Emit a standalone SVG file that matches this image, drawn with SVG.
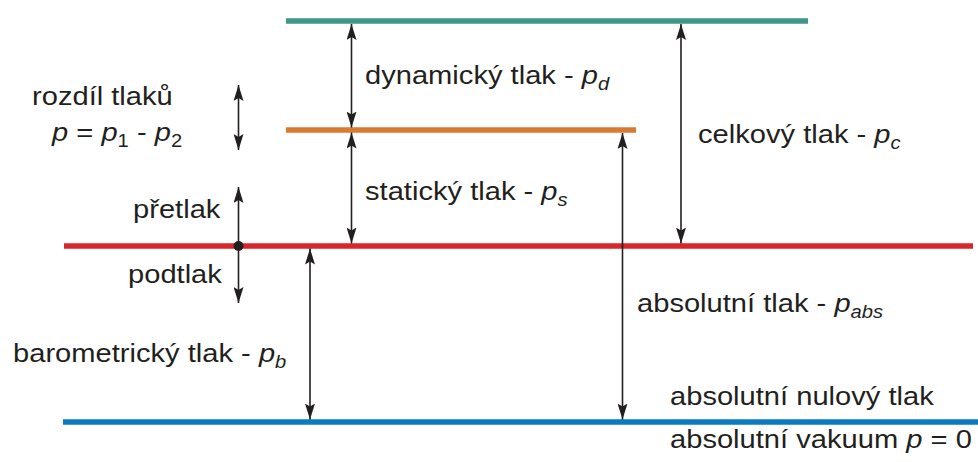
<svg xmlns="http://www.w3.org/2000/svg" width="978" height="462" viewBox="0 0 978 462">
  <style>
    .lvl { stroke-width: 5.5; fill: none; }
    .arr { stroke: #231f20; stroke-width: 1.6; fill: none; }
    .lbl { font-family: "Liberation Sans", Arial, sans-serif; font-size: 26px; fill: #231f20; }
    .it { font-style: italic; }
    .sub { font-size: 18px; font-style: italic; }
    .num { font-size: 18px; font-style: normal; }
  </style>
  <defs>
    <marker id="head" viewBox="0 0 16 10" refX="16" refY="5" markerWidth="16" markerHeight="10" markerUnits="userSpaceOnUse" orient="auto-start-reverse">
      <path d="M0,0 L16,5 L0,10 L3,5 z" fill="#231f20"/>
    </marker>
  </defs>
  <rect width="978" height="462" fill="#ffffff"/>

  <!-- pressure levels -->
  <g id="levels">
    <line id="level-total" class="lvl" x1="286" y1="21" x2="808" y2="21" stroke="#3f978a"/>
    <line id="level-static" class="lvl" x1="286" y1="130" x2="636" y2="130" stroke="#d97a33"/>
    <line id="level-barometric" class="lvl" x1="64" y1="246" x2="973" y2="246" stroke="#d8262a"/>
    <line id="level-zero" class="lvl" x1="63" y1="422" x2="978" y2="422" stroke="#0b7bc1"/>
  </g>

  <!-- dimension arrows -->
  <g id="connectors">
    <line class="arr" x1="351.5" y1="24" x2="351.5" y2="127.5" marker-start="url(#head)" marker-end="url(#head)"/>
    <line class="arr" x1="351.5" y1="132.5" x2="351.5" y2="243.5" marker-start="url(#head)" marker-end="url(#head)"/>
    <line class="arr" x1="681" y1="24" x2="681" y2="243.5" marker-start="url(#head)" marker-end="url(#head)"/>
    <line class="arr" x1="622.5" y1="133" x2="622.5" y2="419.5" marker-start="url(#head)" marker-end="url(#head)"/>
    <line class="arr" x1="310" y1="248.5" x2="310" y2="419.5" marker-start="url(#head)" marker-end="url(#head)"/>
    <line class="arr" x1="238.5" y1="85" x2="238.5" y2="150" marker-start="url(#head)" marker-end="url(#head)"/>
    <line class="arr" x1="238.5" y1="246" x2="238.5" y2="187" marker-end="url(#head)"/>
    <line class="arr" x1="238.5" y1="246" x2="238.5" y2="303" marker-end="url(#head)"/>
    <circle cx="238.5" cy="246" r="5" fill="#231f20"/>
  </g>

  <!-- labels -->
  <g id="label-difference">
    <text class="lbl" transform="translate(32 105) scale(1.12 1)">rozdíl tlaků</text>
    <text class="lbl" transform="translate(52 141) scale(1.12 1)"><tspan class="it">p</tspan> = <tspan class="it">p</tspan><tspan class="num" dy="6">1</tspan><tspan dy="-6"> - </tspan><tspan class="it">p</tspan><tspan class="num" dy="6">2</tspan></text>
  </g>
  <g id="label-overpressure">
    <text class="lbl" transform="translate(133 218) scale(1.12 1)">přetlak</text>
  </g>
  <g id="label-underpressure">
    <text class="lbl" transform="translate(128 283) scale(1.12 1)">podtlak</text>
  </g>
  <g id="label-barometric">
    <text class="lbl" transform="translate(13 362) scale(1.12 1)">barometrický tlak - <tspan class="it">p</tspan><tspan class="sub" dy="6">b</tspan></text>
  </g>
  <g id="label-dynamic">
    <text class="lbl" transform="translate(365 84) scale(1.12 1)">dynamický tlak - <tspan class="it">p</tspan><tspan class="sub" dy="6">d</tspan></text>
  </g>
  <g id="label-static">
    <text class="lbl" transform="translate(365 200) scale(1.12 1)">statický tlak - <tspan class="it">p</tspan><tspan class="sub" dy="6">s</tspan></text>
  </g>
  <g id="label-total">
    <text class="lbl" transform="translate(698 143) scale(1.12 1)">celkový tlak - <tspan class="it">p</tspan><tspan class="sub" dy="6">c</tspan></text>
  </g>
  <g id="label-absolute">
    <text class="lbl" transform="translate(637 312) scale(1.12 1)">absolutní tlak - <tspan class="it">p</tspan><tspan class="sub" dy="6">abs</tspan></text>
  </g>
  <g id="label-zero">
    <text class="lbl" transform="translate(670 405) scale(1.12 1)">absolutní nulový tlak</text>
    <text class="lbl" transform="translate(670 448) scale(1.12 1)">absolutní vakuum <tspan class="it">p</tspan> = 0</text>
  </g>
</svg>
